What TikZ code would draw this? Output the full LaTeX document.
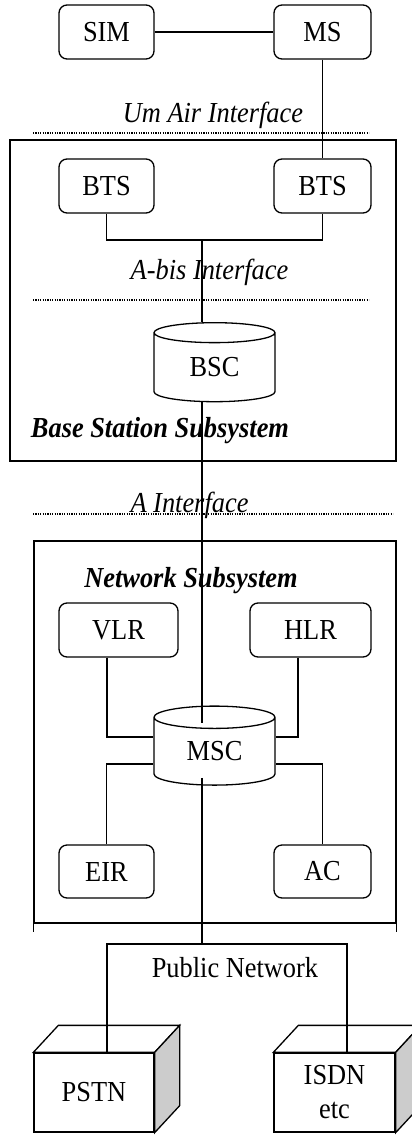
\documentclass[tikz,border=0pt]{standalone}
\usepackage{fontspec}
\setmainfont{Liberation Serif}[FakeStretch=0.91]
\usetikzlibrary{shapes.geometric,calc}

\begin{document}
\begin{tikzpicture}[x=1pt, y=-1pt,
    font=\fontsize{29}{33}\selectfont,
    unit/.style={draw, rounded corners=8pt, line width=1.3pt, minimum height=54pt, inner sep=0pt},
    store/.style={cylinder, shape border rotate=90, shape aspect=0.4, draw, line width=1.3pt,
                  minimum width=121pt, minimum height=79pt, inner sep=0pt},
    zone/.style={draw, line width=1.3pt, inner sep=0pt},
    net/.style={draw, fill=white, line width=1.3pt, minimum width=121pt, minimum height=79pt,
                inner sep=0pt, align=center},
    wire/.style={line width=1.3pt},
    airgap/.style={line width=1.2pt, dash pattern=on 1.2pt off 1.2pt},
    iface/.style={font=\fontsize{29}{33}\selectfont\itshape, anchor=base},
    subsys/.style={font=\fontsize{29}{33}\selectfont\bfseries\itshape, anchor=base}
  ]
  \useasboundingbox (0,0) rectangle (412,1135);
  \clip (0,0) rectangle (412,1135);

  % subsystems
  \node[zone, minimum width=386pt, minimum height=321pt] (bss) at (203,300.5) {};
  \node[zone, minimum width=362pt, minimum height=382pt] (nss) at (215,732) {};
  \draw[wire] (nss.south west) -- ++(0,8);
  \draw[wire] (nss.south east) -- ++(0,8);

  % interfaces
  \draw[airgap] (33,133) -- (369,133);
  \draw[airgap] (33,300) -- (369,300);
  \draw[airgap] (33,514) -- (393,514);
  \node[iface] (um) at (213,122) {Um Air Interface};
  \node[iface] (abis) at (209.5,279) {A-bis Interface};
  \node[iface] (aif) at (189.5,512) {A Interface};
  \node[subsys] (bsslabel) at (160,437) {Base Station Subsystem};
  \node[subsys] (nsslabel) at (191,587) {Network Subsystem};

  % mobile station
  \node[unit, minimum width=95pt] (sim) at (106.5,32) {SIM};
  \node[unit, minimum width=97pt] (ms) at (322.5,32) {MS};

  % base station subsystem
  \node[unit, minimum width=95pt] (btsl) at (106.5,186) {BTS};
  \node[unit, minimum width=97pt] (btsr) at (322.5,186) {BTS};
  \node[store] (bsc) at (214.5,367.5) {BSC};

  % network subsystem
  \node[unit, minimum width=119pt] (vlr) at (118.5,630) {VLR};
  \node[unit, minimum width=121pt] (hlr) at (310.5,630) {HLR};
  \node[store] (msc) at (214.5,751.5) {MSC};
  \node[unit, minimum width=95pt, minimum height=53pt] (eir) at (106.5,871.5) {EIR};
  \node[unit, minimum width=97pt, minimum height=53pt] (ac) at (322.5,871.5) {AC};

  % public network
  \node[net, minimum width=120pt] (pstn) at (94,1092.5) {PSTN};
  \node[net] (isdn) at (334.5,1092.5) {ISDN\\[1pt]etc};
  \draw[wire, fill=white] (pstn.north west) -- ++(25,-27) -- ([shift={(25,-27)}]pstn.north east) -- (pstn.north east) -- cycle;
  \draw[wire, fill=black!20] (pstn.north east) -- ++(25,-27) -- ([shift={(25,-27)}]pstn.south east) -- (pstn.south east) -- cycle;
  \draw[wire, fill=white] (isdn.north west) -- ++(25,-27) -- ([shift={(25,-27)}]isdn.north east) -- (isdn.north east) -- cycle;
  \draw[wire, fill=black!20] (isdn.north east) -- ++(25,-27) -- ([shift={(25,-27)}]isdn.south east) -- (isdn.south east) -- cycle;
  \node[iface, font=\fontsize{29}{33}\selectfont] (pnlabel) at (235,977) {Public Network};

  % links
  \coordinate (bj) at (202,240);
  \coordinate (pn) at (202,944);
  \draw[wire] (sim.east) -- (ms.west);
  \draw[wire] (ms.south) -- (btsr.north);
  \draw[wire] (btsl.south) |- (bj) -| (btsr.south);
  \draw[wire] (bj) -- (bj |- bsc.north);
  \draw[wire] (bj |- bsc.south) -- ([yshift=-18pt]bj |- msc.north);
  \draw[wire] ([xshift=-11.5pt]vlr.south) |- ([yshift=14.5pt]msc.west);
  \draw[wire] ([xshift=-12.5pt]hlr.south) |- ([yshift=14.5pt]msc.east);
  \draw[wire] (eir.north) |- ([yshift=-12.5pt]msc.west);
  \draw[wire] (ac.north) |- ([yshift=-12.5pt]msc.east);
  \draw[wire] ([yshift=8pt]bj |- msc.south) -- (pn);
  \draw[wire] ([xshift=13pt]pstn.north) |- (pn) -| ([xshift=12.5pt]isdn.north);
\end{tikzpicture}
\end{document}
